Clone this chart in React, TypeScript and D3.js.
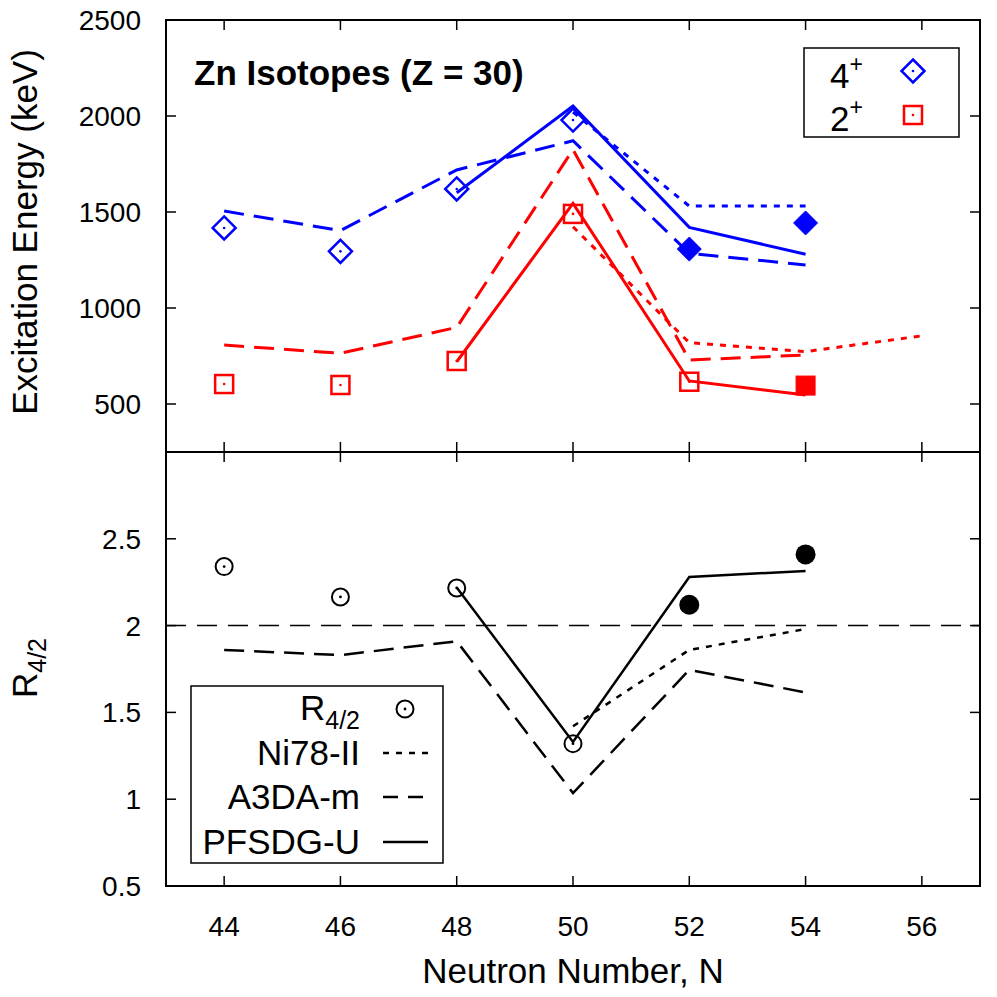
import React from "react";
import * as d3 from "d3";

// ---------- data ----------
const X_TICKS = [44, 46, 48, 50, 52, 54, 56];
const E_TICKS = [500, 1000, 1500, 2000, 2500];
const R_TICKS = [0.5, 1, 1.5, 2, 2.5];

// experimental 4+ (open and filled)
const N_EXP_OPEN4 = [44, 46, 48, 50];
const E4_EXP_OPEN = [1417, 1295, 1620, 1979];
const N_EXP_FILLED4 = [52, 54];
const E4_EXP_FILLED = [1307, 1443];
// experimental 2+
const N_EXP_OPEN2 = [44, 46, 48, 50, 52];
const E2_EXP_OPEN = [604, 599, 724, 1490, 616];
const N_EXP_FILLED2 = [54];
const E2_EXP_FILLED = [596];

// Ni78-II (dotted)
const N_NI78_4 = [50, 52, 54];
const E4_NI78 = [2020, 1531, 1531];
const N_NI78_2 = [50, 52, 54, 56];
const E2_NI78 = [1423, 819, 773, 855];
// A3DA-m (dashed)
const N_A3DA = [44, 46, 48, 50, 52, 54];
const E4_A3DA = [1505, 1403, 1719, 1871, 1285, 1224];
const E2_A3DA = [807, 764, 899, 1825, 729, 755];
// PFSDG-U (solid)
const N_PFSDG = [48, 50, 52, 54];
const E4_PFSDG = [1600, 2052, 1420, 1280];
const E2_PFSDG = [720, 1545, 620, 547];

// R4/2
const N_R_OPEN = [44, 46, 48, 50];
const R_EXP_OPEN = [2.34, 2.165, 2.217, 1.32];
const N_R_FILLED = [52, 54];
const R_EXP_FILLED = [2.12, 2.41];
const N_R_NI78 = [50, 52, 54];
const R_NI78 = [1.42, 1.86, 1.98];
const N_R_A3DA = [44, 46, 48, 50, 52, 54];
const R_A3DA = [1.86, 1.83, 1.91, 1.035, 1.745, 1.615];
const N_R_PFSDG = [48, 50, 52, 54];
const R_PFSDG = [2.22, 1.33, 2.28, 2.315];
const R_REF = 2;

// ---------- layout ----------
const L = 166, R = 980, T = 20, MID = 452, B = 886;
const FONT = "'Liberation Sans', Arial, Helvetica, sans-serif";
const BLUE = "#0000ff";
const RED = "#ff0000";
const DASH = "20 10";
const DOT = "6 7";
const TICK_FS = 28;
const LABEL_FS = 35;

const x = d3.scaleLinear().domain([43, 57]).range([L, R]);
const yE = d3.scaleLinear().domain([250, 2500]).range([MID, T]);
const yR = d3.scaleLinear().domain([0.5, 3]).range([B, MID]);

function pts(ns: number[], vs: number[]): [number, number][] {
  return ns.map((n, i) => [n, vs[i]]);
}

function Line({ ns, vs, y, color, dash, w = 3 }: any) {
  const gen = d3
    .line<[number, number]>()
    .x((d) => x(d[0]))
    .y((d) => y(d[1]));
  return (
    <path
      d={gen(pts(ns, vs)) || ""}
      fill="none"
      stroke={color}
      strokeWidth={w}
      strokeDasharray={dash}
      strokeLinejoin="miter"
    />
  );
}

function Diamond({ cx, cy, filled, s = 11.5 }: any) {
  const d = `M${cx},${cy - s}L${cx + s},${cy}L${cx},${cy + s}L${cx - s},${cy}Z`;
  return (
    <g>
      <path d={d} fill={filled ? BLUE : "none"} stroke={BLUE} strokeWidth={filled ? 1 : 2.5} />
      {!filled && <circle cx={cx} cy={cy} r={1.3} fill={BLUE} />}
    </g>
  );
}
function Square({ cx, cy, filled, s = 9 }: any) {
  return (
    <g>
      <rect
        x={cx - s}
        y={cy - s}
        width={2 * s}
        height={2 * s}
        fill={filled ? RED : "none"}
        stroke={RED}
        strokeWidth={filled ? 1 : 2.5}
      />
      {!filled && <circle cx={cx} cy={cy} r={1.3} fill={RED} />}
    </g>
  );
}
function Circ({ cx, cy, filled }: any) {
  return filled ? (
    <circle cx={cx} cy={cy} r={10} fill="#000" />
  ) : (
    <g>
      <circle cx={cx} cy={cy} r={8.5} fill="none" stroke="#000" strokeWidth={2} />
      <circle cx={cx} cy={cy} r={1.4} fill="#000" />
    </g>
  );
}

export default function App() {
  const tick = 10;
  return (
    <svg
      width={997}
      height={997}
      style={{ position: "absolute", left: 0, top: 0, background: "#fff" }}
      fontFamily={FONT}
    >
      <rect x={0} y={0} width={997} height={997} fill="#fff" />

      {/* ---------- top panel lines ---------- */}
      <Line ns={N_A3DA} vs={E4_A3DA} y={yE} color={BLUE} dash={DASH} />
      <Line ns={N_NI78_4} vs={E4_NI78} y={yE} color={BLUE} dash={DOT} />
      <Line ns={N_PFSDG} vs={E4_PFSDG} y={yE} color={BLUE} />
      <Line ns={N_A3DA} vs={E2_A3DA} y={yE} color={RED} dash={DASH} />
      <Line ns={N_NI78_2} vs={E2_NI78} y={yE} color={RED} dash={DOT} />
      <Line ns={N_PFSDG} vs={E2_PFSDG} y={yE} color={RED} />

      {N_EXP_OPEN4.map((n, i) => (
        <Diamond key={"d" + i} cx={x(n)} cy={yE(E4_EXP_OPEN[i])} />
      ))}
      {N_EXP_FILLED4.map((n, i) => (
        <Diamond key={"df" + i} cx={x(n)} cy={yE(E4_EXP_FILLED[i])} filled s={12} />
      ))}
      {N_EXP_OPEN2.map((n, i) => (
        <Square key={"s" + i} cx={x(n)} cy={yE(E2_EXP_OPEN[i])} />
      ))}
      {N_EXP_FILLED2.map((n, i) => (
        <Square key={"sf" + i} cx={x(n)} cy={yE(E2_EXP_FILLED[i])} filled s={9.5} />
      ))}

      {/* ---------- bottom panel lines ---------- */}
      <line
        x1={L}
        x2={R}
        y1={yR(R_REF)}
        y2={yR(R_REF)}
        stroke="#000"
        strokeWidth={1.5}
        strokeDasharray="20 11"
      />
      <Line ns={N_R_NI78} vs={R_NI78} y={yR} color="#000" dash={DOT} w={2.5} />
      <Line ns={N_R_A3DA} vs={R_A3DA} y={yR} color="#000" dash={DASH} w={2.5} />
      <Line ns={N_R_PFSDG} vs={R_PFSDG} y={yR} color="#000" w={2.5} />
      {N_R_OPEN.map((n, i) => (
        <Circ key={"c" + i} cx={x(n)} cy={yR(R_EXP_OPEN[i])} />
      ))}
      {N_R_FILLED.map((n, i) => (
        <Circ key={"cf" + i} cx={x(n)} cy={yR(R_EXP_FILLED[i])} filled />
      ))}

      {/* ---------- frames ---------- */}
      <rect x={L} y={T} width={R - L} height={B - T} fill="none" stroke="#000" strokeWidth={2} />
      <line x1={L} x2={R} y1={MID} y2={MID} stroke="#000" strokeWidth={2} />

      {/* x ticks */}
      {X_TICKS.map((t) => (
        <g key={"xt" + t}>
          <line x1={x(t)} x2={x(t)} y1={T} y2={T + tick} stroke="#000" strokeWidth={1.5} />
          <line x1={x(t)} x2={x(t)} y1={MID - tick} y2={MID + tick} stroke="#000" strokeWidth={1.5} />
          <line x1={x(t)} x2={x(t)} y1={B} y2={B - tick} stroke="#000" strokeWidth={1.5} />
          <text x={x(t)} y={936} fontSize={TICK_FS} textAnchor="middle">
            {t}
          </text>
        </g>
      ))}
      {/* y ticks top */}
      {E_TICKS.map((t) => (
        <g key={"ye" + t}>
          <line x1={L} x2={L + tick} y1={yE(t)} y2={yE(t)} stroke="#000" strokeWidth={1.5} />
          <line x1={R} x2={R - tick} y1={yE(t)} y2={yE(t)} stroke="#000" strokeWidth={1.5} />
          <text x={141} y={yE(t) + 10} fontSize={TICK_FS} textAnchor="end">
            {t}
          </text>
        </g>
      ))}
      {/* y ticks bottom */}
      {R_TICKS.map((t) => (
        <g key={"yr" + t}>
          <line x1={L} x2={L + tick} y1={yR(t)} y2={yR(t)} stroke="#000" strokeWidth={1.5} />
          <line x1={R} x2={R - tick} y1={yR(t)} y2={yR(t)} stroke="#000" strokeWidth={1.5} />
          <text x={141} y={yR(t) + 10} fontSize={TICK_FS} textAnchor="end">
            {t}
          </text>
        </g>
      ))}

      {/* axis titles */}
      <text x={573} y={983} fontSize={LABEL_FS} textAnchor="middle">
        Neutron Number, N
      </text>
      <text transform="translate(37,232) rotate(-90)" fontSize={LABEL_FS} textAnchor="middle">
        Excitation Energy (keV)
      </text>
      <text transform="translate(37,668) rotate(-90)" fontSize={LABEL_FS} textAnchor="middle">
        R
        <tspan fontSize={25} dy={9}>
          4/2
        </tspan>
      </text>

      {/* title */}
      <text x={194} y={85} fontSize={35} fontWeight="bold">
        Zn Isotopes (Z = 30)
      </text>

      {/* top legend */}
      <rect x={804} y={48} width={155} height={89} fill="#fff" stroke="#000" strokeWidth={1.5} />
      <text x={830} y={88} fontSize={LABEL_FS}>
        4<tspan fontSize={23} dy={-16}>+</tspan>
      </text>
      <Diamond cx={913} cy={71} />
      <text x={830} y={131} fontSize={LABEL_FS}>
        2<tspan fontSize={23} dy={-16}>+</tspan>
      </text>
      <Square cx={913} cy={115} />

      {/* bottom legend */}
      <rect x={191} y={686} width={252} height={177} fill="#fff" stroke="#000" strokeWidth={1.5} />
      <text x={360} y={720} fontSize={LABEL_FS} textAnchor="end">
        R<tspan fontSize={25} dy={9}>4/2</tspan>
      </text>
      <Circ cx={405} cy={709} />
      <text x={360} y={765} fontSize={LABEL_FS} textAnchor="end">
        Ni78-II
      </text>
      <line x1={383} x2={428} y1={753} y2={753} stroke="#000" strokeWidth={2.5} strokeDasharray={DOT} />
      <text x={360} y={809} fontSize={LABEL_FS} textAnchor="end">
        A3DA-m
      </text>
      <line x1={383} x2={428} y1={797} y2={797} stroke="#000" strokeWidth={2.5} strokeDasharray="15 10" />
      <text x={360} y={854} fontSize={LABEL_FS} textAnchor="end">
        PFSDG-U
      </text>
      <line x1={383} x2={428} y1={842} y2={842} stroke="#000" strokeWidth={2.5} />
    </svg>
  );
}
